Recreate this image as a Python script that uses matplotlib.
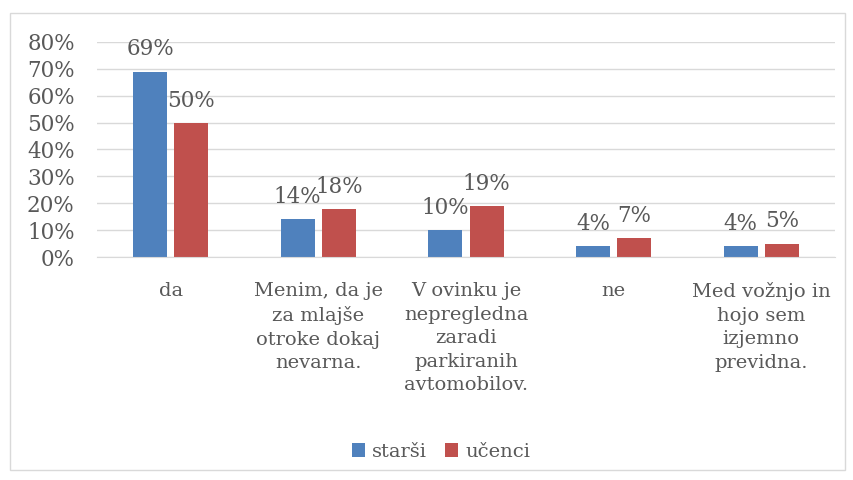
import matplotlib.pyplot as plt
import numpy as np
from matplotlib.patches import Rectangle

categories = ['da', 'Menim, da je\nza mlajše\notroke dokaj\nnevarna.',
              'V ovinku je\nnepregledna\nzaradi\nparkiranih\navtomobilov.',
              'ne', 'Med vožnjo in\nhojo sem\nizjemno\nprevidna.']
starsi = [69, 14, 10, 4, 4]
ucenci = [50, 18, 19, 7, 5]
yticks = [0, 10, 20, 30, 40, 50, 60, 70, 80]

plt.rcParams['font.family'] = ['DejaVu Serif']
txt = '#595959'

fig = plt.figure(figsize=(8.54, 4.8), dpi=100)
ax = fig.add_axes([97/854, 1-257/480, (835-97)/854, (257-42)/480])

x = np.arange(len(categories))
w = 0.23
b1 = ax.bar(x - 0.14, starsi, w, color='#4F81BD', label='starši')
b2 = ax.bar(x + 0.14, ucenci, w, color='#C0504D', label='učenci')

# value labels above bars
for bars, vals in [(b1, starsi), (b2, ucenci)]:
    for r, v in zip(bars, vals):
        ax.annotate(f'{v}%', (r.get_x() + r.get_width()/2, v), xytext=(0, 8),
                    textcoords='offset points', ha='center', va='bottom',
                    fontsize=15.5, color=txt)

ax.set_xlim(-0.5, 4.5)
ax.set_ylim(0, 80)
ax.set_yticks(yticks)
ax.set_yticklabels([f'{t}%' for t in yticks], fontsize=15.5, color=txt)
ax.set_xticks(x)
ax.set_xticklabels(categories, fontsize=14, color=txt, linespacing=1.4, va='top')
ax.tick_params(length=0)
ax.tick_params(axis='y', pad=16)
ax.tick_params(axis='x', pad=18)
ax.grid(axis='y', color='#D9D9D9', linewidth=1)
ax.set_axisbelow(True)
for s in ['top', 'right', 'left']:
    ax.spines[s].set_visible(False)
ax.spines['bottom'].set_color('#D9D9D9')

leg = fig.legend(loc='center', bbox_to_anchor=(441/854, 1-452/480), ncol=2,
                 frameon=False, fontsize=14, handlelength=0.7, handleheight=0.7,
                 handletextpad=0.35, columnspacing=0.9)
for t in leg.get_texts():
    t.set_color(txt)

fig.patches.append(Rectangle((10/854, 1-470/480), 835/854, 457/480,
                             transform=fig.transFigure, fill=False,
                             edgecolor='#D9D9D9', linewidth=1))

fig.savefig('out.png', dpi=100)
